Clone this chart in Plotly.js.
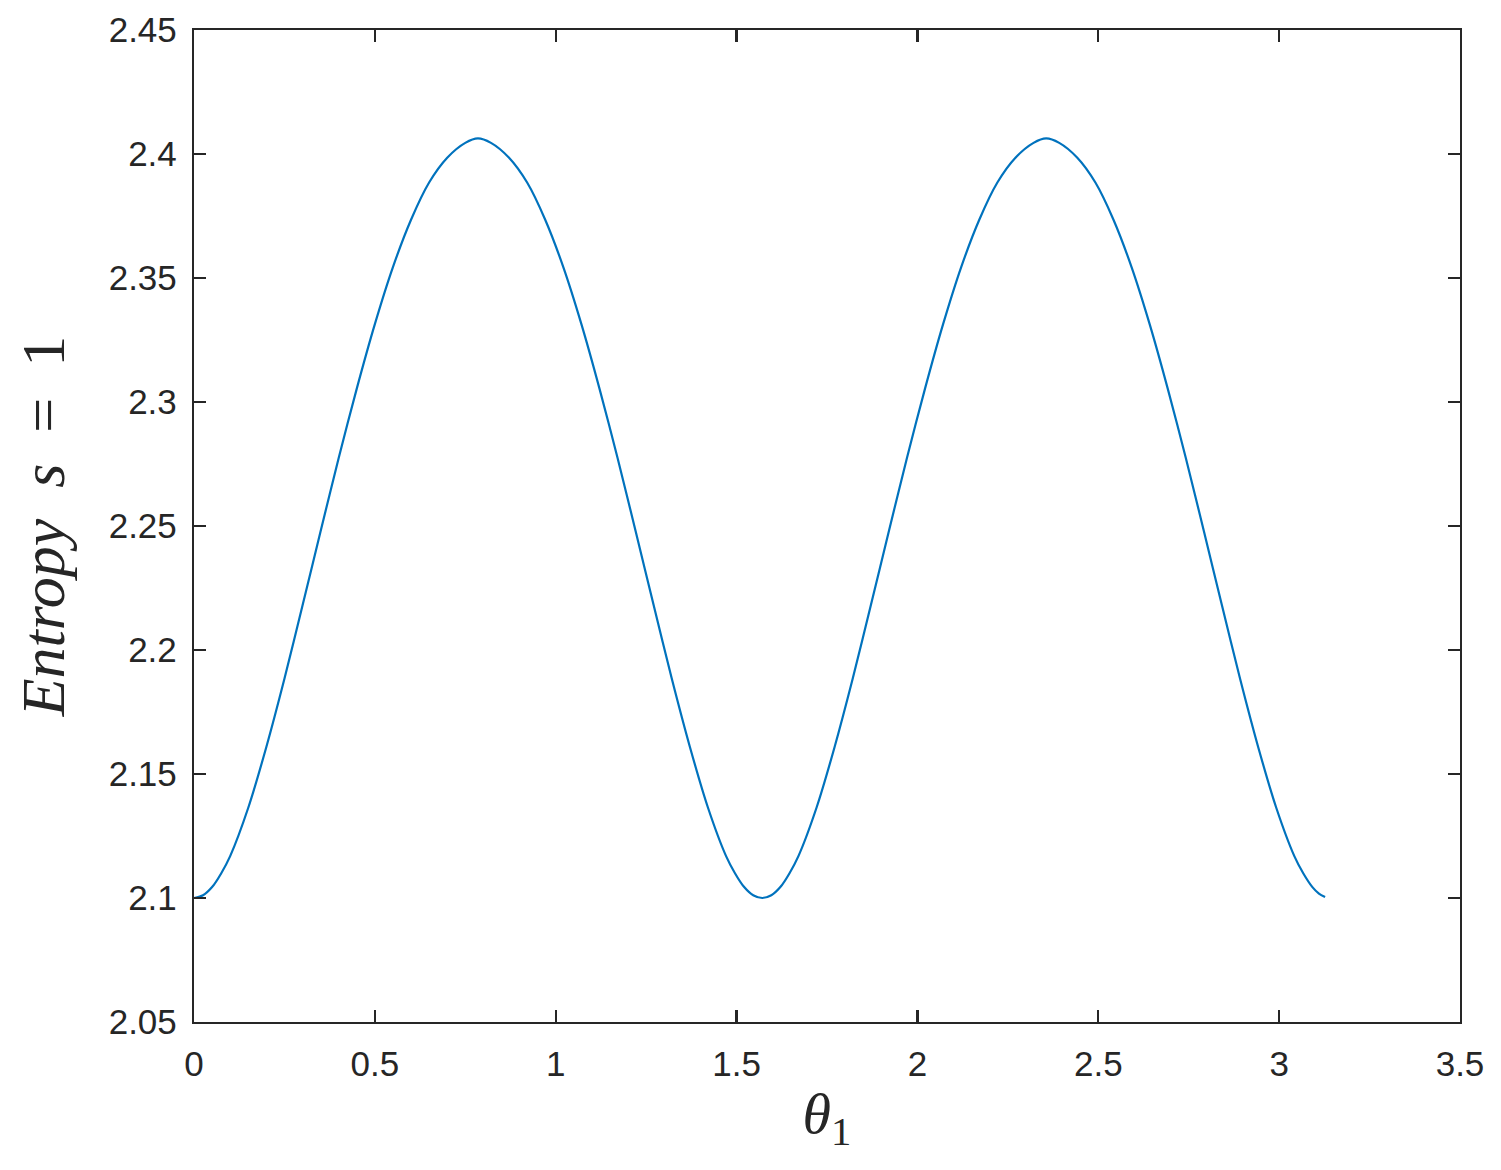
<!DOCTYPE html>
<html>
<head>
<meta charset="utf-8">
<script src="https://cdn.plot.ly/plotly-3.0.1.min.js"></script>
<style>html,body{margin:0;padding:0;background:#fff;}#chart{width:1501px;height:1170px;}</style>
</head>
<body>
<div id="chart"></div>
<script>
// Values (theta_1 vs entropy)
const theta1 = [
  0.000, 0.025, 0.050, 0.075, 0.100, 0.150, 0.200, 0.250, 0.300, 0.350, 0.400, 0.450, 0.500, 0.550, 0.600, 0.650, 0.700, 0.750, 0.785,
  0.821, 0.871, 0.921, 0.971, 1.021, 1.071, 1.121, 1.171, 1.221, 1.271, 1.321, 1.371, 1.421, 1.471, 1.496, 1.521, 1.546, 1.571,
  1.596, 1.621, 1.646, 1.671, 1.721, 1.771, 1.821, 1.871, 1.921, 1.971, 2.021, 2.071, 2.121, 2.171, 2.221, 2.271, 2.321, 2.356,
  2.392, 2.442, 2.492, 2.542, 2.592, 2.642, 2.692, 2.742, 2.792, 2.842, 2.892, 2.942, 2.992, 3.042, 3.067, 3.092, 3.110, 3.127
];
const entropy = [
  2.1000, 2.1011, 2.1044, 2.1099, 2.1169, 2.1364, 2.1609, 2.1884, 2.2179, 2.2479, 2.2774, 2.3054, 2.3314, 2.3544, 2.3735, 2.3885, 2.3985, 2.4045, 2.4063,
  2.4045, 2.3985, 2.3885, 2.3735, 2.3544, 2.3314, 2.3054, 2.2774, 2.2479, 2.2179, 2.1884, 2.1609, 2.1364, 2.1169, 2.1099, 2.1044, 2.1011, 2.1000,
  2.1011, 2.1044, 2.1099, 2.1169, 2.1364, 2.1609, 2.1884, 2.2179, 2.2479, 2.2774, 2.3054, 2.3314, 2.3544, 2.3735, 2.3885, 2.3985, 2.4045, 2.4063,
  2.4045, 2.3985, 2.3885, 2.3735, 2.3544, 2.3314, 2.3054, 2.2774, 2.2479, 2.2179, 2.1884, 2.1609, 2.1364, 2.1169, 2.1099, 2.1044, 2.1018, 2.1004
];
const xTicks = [0, 0.5, 1, 1.5, 2, 2.5, 3, 3.5];
const xTickText = ["0", "0.5", "1", "1.5", "2", "2.5", "3", "3.5"];
const yTicks = [2.05, 2.1, 2.15, 2.2, 2.25, 2.3, 2.35, 2.4, 2.45];
const yTickText = ["2.05", "2.1", "2.15", "2.2", "2.25", "2.3", "2.35", "2.4", "2.45"];

const trace = {
  x: theta1, y: entropy, type: 'scatter', mode: 'lines',
  line: {color: '#0072BD', width: 2.2, shape: 'spline', smoothing: 0.8}
};
const axisCommon = {
  showline: true, linecolor: '#262626', linewidth: 2.2, mirror: 'ticks',
  ticks: 'inside', ticklen: 12, tickwidth: 2.2, tickcolor: '#262626',
  showgrid: false, zeroline: false, tickmode: 'array',
  tickfont: {family: 'Liberation Sans, Arial, sans-serif', size: 35, color: '#262626'}
};
const layout = {
  width: 1501, height: 1170,
  margin: {l: 194, r: 41, t: 30, b: 148},
  paper_bgcolor: '#fff', plot_bgcolor: '#fff',
  showlegend: false,
  xaxis: Object.assign({}, axisCommon, {
    range: [0, 3.5], tickvals: xTicks, ticktext: xTickText, ticklabelstandoff: 10,
    title: {text: '<i>θ</i><sub>1</sub>', standoff: 10,
      font: {family: 'Liberation Serif, Times New Roman, serif', size: 58, color: '#262626'}}
  }),
  yaxis: Object.assign({}, axisCommon, {
    range: [2.05, 2.45], tickvals: yTicks, ticktext: yTickText, ticklabelstandoff: 8,
    title: {text: '<i>Entropy  s</i>  =  1', standoff: 24,
      font: {family: 'Liberation Serif, Times New Roman, serif', size: 62, color: '#262626'}}
  })
};
Plotly.newPlot('chart', [trace], layout, {staticPlot: true, displayModeBar: false});
</script>
</body>
</html>
